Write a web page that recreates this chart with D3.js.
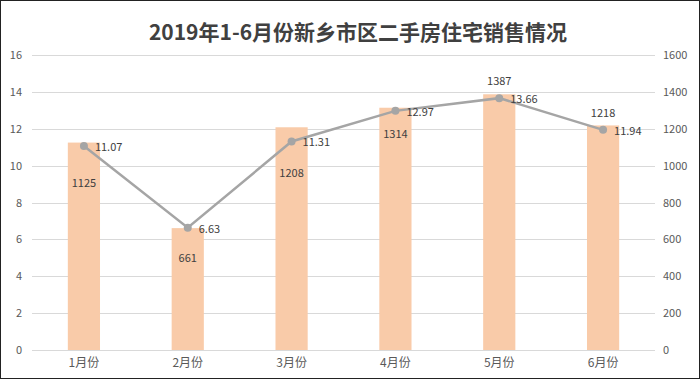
<!DOCTYPE html>
<html><head><meta charset="utf-8">
<script src="https://cdn.jsdelivr.net/npm/d3@7"></script>
<style>body{margin:0;background:#fff}svg{display:block}</style>
</head><body><svg id="c" width="700" height="379"></svg>
<script>
const title = "2019年1-6月份新乡市区二手房住宅销售情况";
const categories = ["1月份","2月份","3月份","4月份","5月份","6月份"];
const barValues = [1125, 661, 1208, 1314, 1387, 1218];
const lineValues = [11.07, 6.63, 11.31, 12.97, 13.66, 11.94];
const leftTicks = [0,2,4,6,8,10,12,14,16];
const rightTicks = [0,200,400,600,800,1000,1200,1400,1600];
const barLabelDy = [39, 29, 45, 25, -14, -13];

const W = 700, H = 379;
const m = {l:32, r:45, t:55, b:29};
const svg = d3.select("#c");
const font = "'Noto Sans CJK SC','Noto Sans',sans-serif";

svg.append("rect").attr("x",0.5).attr("y",0.5).attr("width",W-1).attr("height",H-1)
  .attr("fill","#fff").attr("stroke","#222").attr("stroke-width",1);

const x = d3.scaleBand().domain(categories).range([m.l, W-m.r]).paddingInner(0.69).paddingOuter(0.345);
const yL = d3.scaleLinear().domain([0,16]).range([H-m.b, m.t]);
const yR = d3.scaleLinear().domain([0,1600]).range([H-m.b, m.t]);

// gridlines
svg.append("g").selectAll("line").data(leftTicks).join("line")
  .attr("x1",m.l).attr("x2",W-m.r).attr("y1",d=>Math.round(yL(d))+0.5).attr("y2",d=>Math.round(yL(d))+0.5)
  .attr("stroke","#d9d9d9").attr("stroke-width",1);

// left axis
const la = svg.append("g").attr("transform",`translate(${m.l-10},0)`)
  .call(d3.axisLeft(yL).tickValues(leftTicks).tickSize(0).tickPadding(0).tickFormat(d3.format("d")));
la.select(".domain").remove();
la.selectAll("text").attr("fill","#595959").style("font-family",font).style("font-size","11px");

// right axis
const ra = svg.append("g").attr("transform",`translate(${W-m.r+8},0)`)
  .call(d3.axisRight(yR).tickValues(rightTicks).tickSize(0).tickPadding(0).tickFormat(d3.format("d")));
ra.select(".domain").remove();
ra.selectAll("text").attr("fill","#595959").style("font-family",font).style("font-size","11px");

// x axis
const xa = svg.append("g").attr("transform",`translate(0,${H-m.b})`)
  .call(d3.axisBottom(x).tickSize(0).tickPadding(8));
xa.select(".domain").remove();
xa.selectAll("text").attr("fill","#595959").style("font-family",font).style("font-size","12px");

// bars
svg.append("g").selectAll("rect").data(barValues).join("rect")
  .attr("x",(d,i)=>x(categories[i])).attr("width",x.bandwidth())
  .attr("y",d=>yR(d)).attr("height",d=>yR(0)-yR(d))
  .attr("fill","#F9CBA9");

// bar labels
svg.append("g").selectAll("text").data(barValues).join("text")
  .attr("x",(d,i)=>x(categories[i])+x.bandwidth()/2)
  .attr("y",(d,i)=>yR(d)+barLabelDy[i])
  .attr("text-anchor","middle").attr("dominant-baseline","central")
  .attr("fill","#404040").style("font-family",font).style("font-size","11px")
  .text(d=>d);

// line
const cx = i => x(categories[i])+x.bandwidth()/2;
svg.append("path").datum(lineValues)
  .attr("d", d3.line().x((d,i)=>cx(i)).y(d=>yL(d)))
  .attr("fill","none").attr("stroke","#A5A5A5").attr("stroke-width",2.5);
svg.append("g").selectAll("circle").data(lineValues).join("circle")
  .attr("cx",(d,i)=>cx(i)).attr("cy",d=>yL(d)).attr("r",4).attr("fill","#A5A5A5");
svg.append("g").selectAll("text").data(lineValues).join("text")
  .attr("x",(d,i)=>cx(i)+11).attr("y",d=>yL(d))
  .attr("dominant-baseline","central")
  .attr("fill","#404040").style("font-family",font).style("font-size","11px")
  .text(d=>d.toFixed(2));

// title
svg.append("text").attr("x",358).attr("y",31).attr("text-anchor","middle")
  .attr("dominant-baseline","central")
  .attr("fill","#404040").style("font-family",font).style("font-size","21px").style("font-weight","bold")
  .text(title);
</script></body></html>
